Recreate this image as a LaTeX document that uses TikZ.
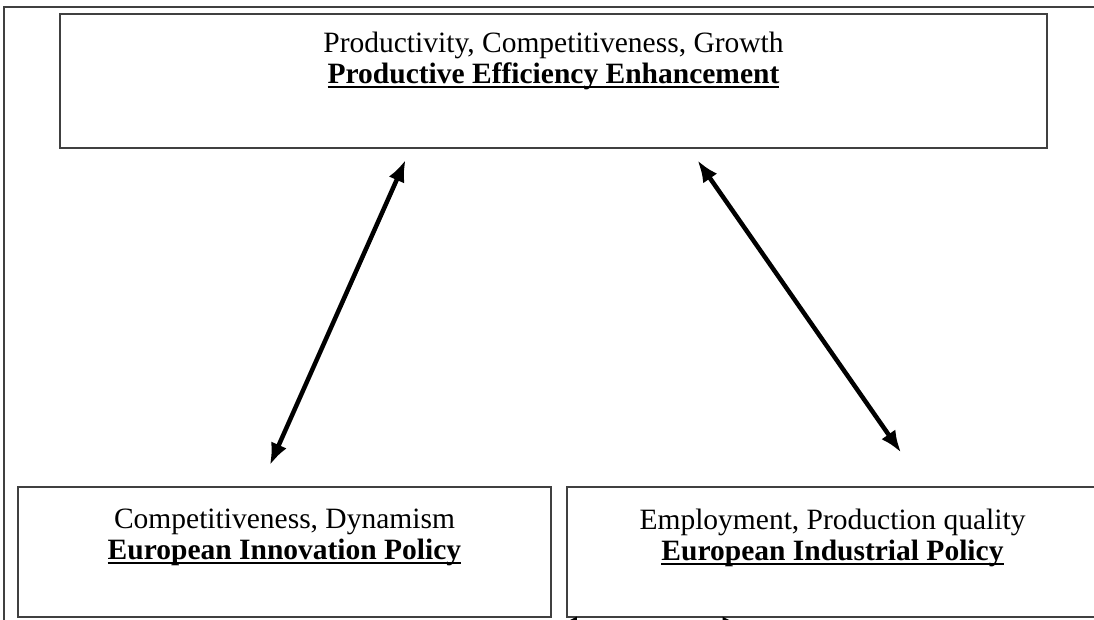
\documentclass[tikz,border=0pt]{standalone}
\usepackage{fontspec}
\setmainfont{Liberation Serif}
\usetikzlibrary{arrows.meta,positioning}

\newcommand{\ulbold}[1]{\setbox0\hbox{\bfseries #1}\leavevmode\rlap{\rule[-4.5pt]{\wd0}{2.4pt}}\box0}

\tikzset{
  box/.style={draw=black!75,line width=1.6pt,rectangle,inner sep=0pt},
  lbl/.style={align=center,inner sep=0pt,font=\fontsize{29.5}{31}\selectfont},
  dblarrow/.style={draw,{Latex[length=22pt,width=17pt]}-{Latex[length=22pt,width=17pt]},line width=4.5pt}
}

\begin{document}
\begin{tikzpicture}[x=1pt,y=-1pt]
    \useasboundingbox (0,0) rectangle (1094,619);
    \clip (0,0) rectangle (1094,619);
    \draw[black!75,line width=1.6pt] (1100,7) -| (4,630);
    \node[box,minimum width=987pt,minimum height=134pt] (eff)   at (553.5,81)  {};
    \node[box,minimum width=533pt,minimum height=130pt] (innov) at (284.5,552) {};
    \node[box,minimum width=531pt,minimum height=130pt] (indus) at (832.5,552) {};
    \node[lbl] (efftxt)   [below=19pt of eff.north]   {Productivity, Competitiveness, Growth\\ \ulbold{Productive Efficiency Enhancement}};
    \node[lbl] (innovtxt) [below=23pt of innov.north] {Competitiveness, Dynamism\\ \ulbold{European Innovation Policy}};
    \node[lbl] (industxt) [below=23pt of indus.north] {Employment, Production quality\\ \ulbold{European Industrial Policy}};
    \path
      ([xshift=-143pt]eff.south) edge [dblarrow, shorten <=12pt, shorten >=23pt] ([xshift=-24pt]innov.north)
      ([xshift=136pt]eff.south)  edge [dblarrow, shorten <=14pt, shorten >=41pt] ([xshift=92pt]indus.north)
      ([shift={(3pt,-7pt)}]innov.south east) edge [dblarrow] ([shift={(-88pt,-7pt)}]indus.south);
\end{tikzpicture}
\end{document}
